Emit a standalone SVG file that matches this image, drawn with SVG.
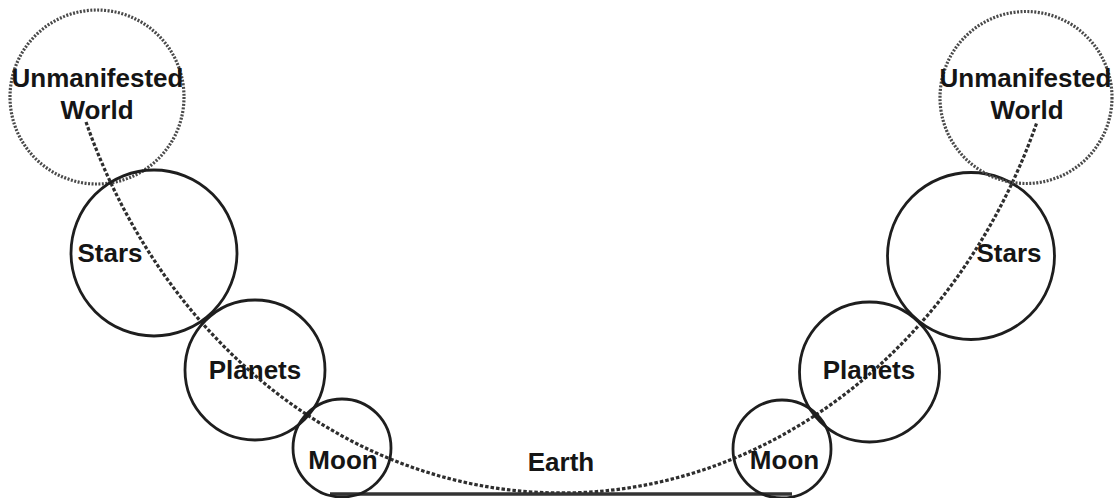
<svg xmlns="http://www.w3.org/2000/svg" width="1117" height="498" viewBox="0 0 1117 498">
<style>
.solid{fill:none;stroke:#1e1e1e;stroke-width:2.8}
.dotted{fill:none;stroke:#4a4a4a;stroke-width:3.2;stroke-dasharray:2 1.5}
.dash{fill:none;stroke:#2e2e2e;stroke-width:3.2;stroke-dasharray:3.5 2}
.lbl{font-family:"Liberation Sans",Arial,sans-serif;font-weight:bold;font-size:26px;fill:#151515;text-anchor:middle}
</style>
<rect width="1117" height="498" fill="#fff"/>
<g id="connectors">
<path class="dash" d="M 86 122 A 512.8 593 0 0 0 1037 122"/>
<line x1="330" y1="494" x2="792" y2="494" stroke="#333" stroke-width="3.5"/>
</g>
<g id="unmanifested-left">
<circle class="dotted" cx="97" cy="97" r="87"/>
<text class="lbl" x="97.5" y="87">Unmanifested</text>
<text class="lbl" x="97" y="119">World</text>
</g>
<g id="stars-left">
<circle class="solid" cx="154" cy="253" r="83"/>
<text class="lbl" x="110" y="262">Stars</text>
</g>
<g id="planets-left">
<circle class="solid" cx="255" cy="370" r="70"/>
<text class="lbl" x="255" y="379">Planets</text>
</g>
<g id="moon-left">
<circle class="solid" cx="342" cy="448" r="49"/>
<text class="lbl" x="343" y="469">Moon</text>
</g>
<g id="earth">
<text class="lbl" x="561" y="471">Earth</text>
</g>
<g id="moon-right">
<circle class="solid" cx="782" cy="449" r="49"/>
<text class="lbl" x="784.5" y="469">Moon</text>
</g>
<g id="planets-right">
<circle class="solid" cx="869.5" cy="372" r="70"/>
<text class="lbl" x="869" y="379">Planets</text>
</g>
<g id="stars-right">
<circle class="solid" cx="971" cy="256" r="83.5"/>
<text class="lbl" x="1009" y="262">Stars</text>
</g>
<g id="unmanifested-right">
<circle class="dotted" cx="1026" cy="97.5" r="86"/>
<text class="lbl" x="1025.5" y="87">Unmanifested</text>
<text class="lbl" x="1027" y="119">World</text>
</g>
</svg>
